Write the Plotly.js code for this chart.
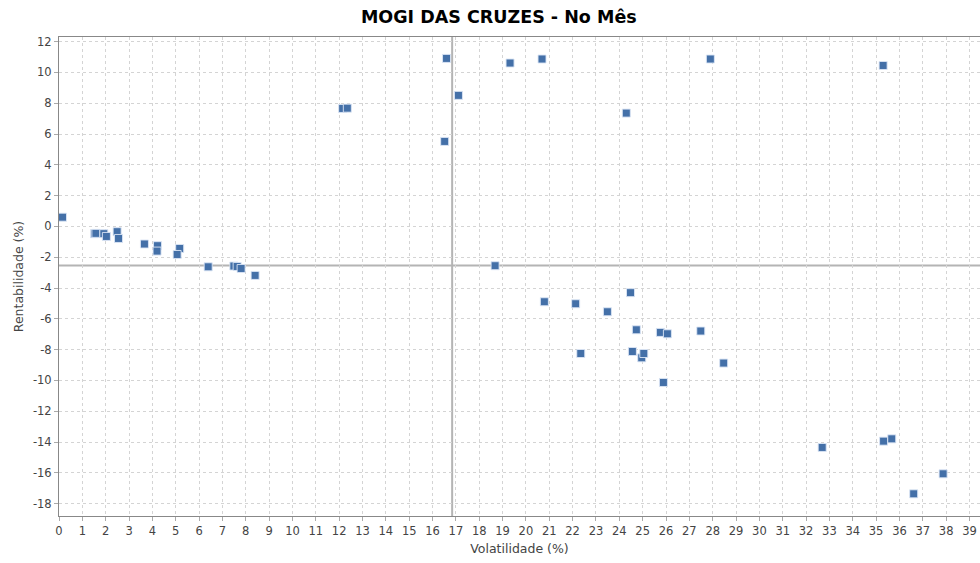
<!DOCTYPE html>
<html>
<head>
<meta charset="utf-8">
<script src="https://cdn.plot.ly/plotly-3.0.1.min.js"></script>
<style>html,body{margin:0;padding:0;background:#fff;}#chart{width:980px;height:563px;}</style>
</head>
<body>
<div id="chart"></div>
<script>
const volatilidade = [0.15, 1.52, 1.58, 1.92, 2.03, 2.49, 2.55, 3.66, 4.22, 4.20, 5.17, 5.06, 6.39, 7.49, 7.63, 7.80, 8.40,
  12.15, 12.35, 16.52, 16.60, 17.11, 18.68, 19.32, 20.69, 20.79, 22.13, 22.35, 23.49, 24.30, 24.48, 24.56, 24.73,
  24.96, 25.05, 25.76, 25.89, 26.06, 27.49, 27.90, 28.47, 32.69, 35.30, 35.32, 35.67, 36.61, 37.87];
const rentabilidade = [0.60, -0.47, -0.45, -0.47, -0.65, -0.34, -0.78, -1.14, -1.25, -1.60, -1.43, -1.82, -2.62, -2.57, -2.60, -2.73, -3.18,
  7.66, 7.68, 5.52, 10.91, 8.51, -2.55, 10.61, 10.87, -4.89, -5.02, -8.25, -5.54, 7.36, -4.30, -8.12, -6.71,
  -8.53, -8.25, -6.88, -10.13, -6.97, -6.79, 10.87, -8.87, -14.35, 10.45, -13.94, -13.79, -17.36, -16.06];
const refVolatilidade = 16.84;
const refRentabilidade = -2.53;
const xTicks = Array.from({length: 40}, (_, i) => i);
const yTicks = [-18, -16, -14, -12, -10, -8, -6, -4, -2, 0, 2, 4, 6, 8, 10, 12];

const font = "DejaVu Sans, Verdana, sans-serif";
const trace = {
  x: volatilidade, y: rentabilidade, type: 'scatter', mode: 'markers',
  marker: {symbol: 'square', size: 8, color: '#4470a8', line: {width: 1, color: 'rgba(220,230,245,0.9)'}},
  hoverinfo: 'x+y', showlegend: false
};
const layout = {
  width: 980, height: 563,
  margin: {l: 59, r: 0, t: 37, b: 47},
  paper_bgcolor: '#fff', plot_bgcolor: '#fff',
  title: {text: '<b>MOGI DAS CRUZES - No Mês</b>', font: {family: font, size: 17.5, color: '#000'}, x: 0.509, xanchor: 'center', y: 0.97, yanchor: 'middle'},
  xaxis: {
    range: [0, 39.45], tickvals: xTicks, ticktext: xTicks.map(String),
    showgrid: true, gridcolor: '#d4d4d4', griddash: 'dot', gridwidth: 1,
    showline: true, linecolor: '#888', linewidth: 1, mirror: true,
    ticks: 'outside', ticklen: 4, tickcolor: '#aaa',
    zeroline: false,
    tickfont: {family: font, size: 11.5, color: '#444'},
    title: {text: 'Volatilidade (%)', font: {family: font, size: 12.5, color: '#444'}, standoff: 7}
  },
  yaxis: {
    range: [-18.8, 12.3], tickvals: yTicks, ticktext: yTicks.map(String),
    showgrid: true, gridcolor: '#d4d4d4', griddash: 'dot', gridwidth: 1,
    showline: true, linecolor: '#888', linewidth: 1, mirror: true,
    ticks: 'outside', ticklen: 4, tickcolor: '#aaa',
    zeroline: false,
    tickfont: {family: font, size: 11.5, color: '#444'},
    title: {text: 'Rentabilidade (%)', font: {family: font, size: 12.5, color: '#444'}, standoff: 6}
  },
  shapes: [
    {type: 'line', xref: 'paper', yref: 'y', x0: 0, x1: 1, y0: refRentabilidade, y1: refRentabilidade, line: {color: '#b4b4b4', width: 2}, layer: 'below'},
    {type: 'line', xref: 'x', yref: 'paper', x0: refVolatilidade, x1: refVolatilidade, y0: 0, y1: 1, line: {color: '#b4b4b4', width: 2}, layer: 'below'}
  ]
};
Plotly.newPlot('chart', [trace], layout, {displayModeBar: false, staticPlot: true});
</script>
</body>
</html>
